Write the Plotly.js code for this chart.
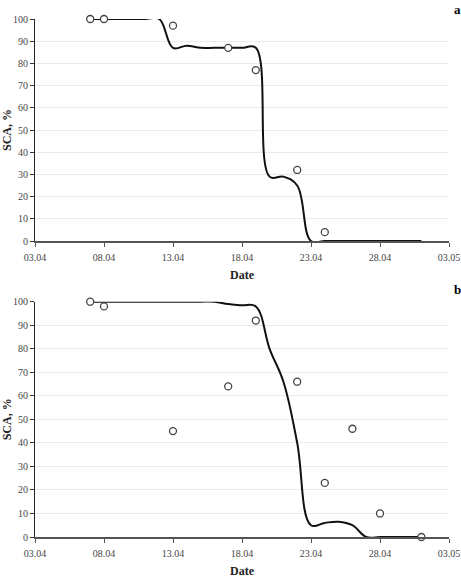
<!DOCTYPE html>
<html>
<head>
<meta charset="utf-8">
<script src="https://cdn.plot.ly/plotly-3.0.1.min.js"></script>
<style>
  html, body { margin: 0; padding: 0; background: #ffffff; }
  #chart { width: 461px; height: 579px; }
</style>
</head>
<body>
<div id="chart"></div>
<script>
// Snow-covered area (SCA, %) during spring melt: observations and smoothed model curve.

// Observation dates and values, panel a
const obsDatesA = ['2010-04-07', '2010-04-08', '2010-04-13', '2010-04-17', '2010-04-19', '2010-04-22', '2010-04-24'];
const obsValuesA = [100, 100, 97, 87, 77, 32, 4];

// Observation dates and values, panel b
const obsDatesB = ['2010-04-07', '2010-04-08', '2010-04-13', '2010-04-17', '2010-04-19', '2010-04-22', '2010-04-24', '2010-04-26', '2010-04-28', '2010-05-01'];
const obsValuesB = [100, 98, 45, 64, 92, 66, 23, 46, 10, 0];

// Daily model dates (07.04 – 01.05)
const modelDates = [
  '2010-04-07', '2010-04-08', '2010-04-09', '2010-04-10', '2010-04-11',
  '2010-04-12', '2010-04-13', '2010-04-14', '2010-04-15', '2010-04-16',
  '2010-04-17', '2010-04-18', '2010-04-19', '2010-04-20', '2010-04-21',
  '2010-04-22', '2010-04-23', '2010-04-24', '2010-04-25', '2010-04-26',
  '2010-04-27', '2010-04-28', '2010-04-29', '2010-04-30', '2010-05-01'
];
const modelValuesA = [100, 100, 100, 100, 100, 100, 87, 88, 87, 87, 87, 87, 87, 29, 29, 25, 0, 0, 0, 0, 0, 0, 0, 0, 0];
const modelValuesB = [100, 100, 100, 100, 100, 100, 100, 100, 100, 100, 99, 98.5, 98, 80, 66, 40, 5, 6, 6.5, 5, 0, 0, 0, 0, 0];

// Axis ticks
const xRange = ['2010-04-03', '2010-05-03'];
const yTickStep = 10;
const panelLabels = ['a', 'b'];

const serif = 'Liberation Serif, Times New Roman, serif';
const DAY = 86400000;

const lineStyle = { color: '#111111', width: 2, shape: 'spline', smoothing: 1.1 };
const markerStyle = { symbol: 'circle', size: 7, color: '#ffffff', line: { color: '#444444', width: 1.3 } };

const traces = [
  { x: modelDates, y: modelValuesA, xaxis: 'x2', yaxis: 'y2', mode: 'lines', line: lineStyle, hoverinfo: 'skip' },
  { x: obsDatesA, y: obsValuesA, xaxis: 'x2', yaxis: 'y2', mode: 'markers', marker: markerStyle, cliponaxis: false },
  { x: modelDates, y: modelValuesB, xaxis: 'x', yaxis: 'y', mode: 'lines', line: lineStyle, hoverinfo: 'skip' },
  { x: obsDatesB, y: obsValuesB, xaxis: 'x', yaxis: 'y', mode: 'markers', marker: markerStyle, cliponaxis: false }
];

function xAxis(anchor) {
  return {
    anchor: anchor,
    type: 'date',
    range: xRange,
    tick0: xRange[0],
    dtick: 5 * DAY,
    tickformat: '%d.%m',
    showgrid: false,
    zeroline: false,
    showline: true,
    linecolor: '#555555',
    linewidth: 2,
    ticks: 'outside',
    ticklen: 4,
    tickwidth: 1,
    tickcolor: '#555555',
    tickfont: { family: serif, size: 10, color: '#444444' },
    ticklabelstandoff: 2,
    title: { text: '<b>Date</b>', font: { family: serif, size: 12, color: '#222222' }, standoff: 9 },
    automargin: false,
    fixedrange: true
  };
}

function yAxis(anchor, domain) {
  return {
    anchor: anchor,
    domain: domain,
    range: [0, 100],
    dtick: yTickStep,
    showgrid: true,
    gridcolor: '#ebebeb',
    gridwidth: 1,
    zeroline: false,
    showline: true,
    linecolor: '#222222',
    linewidth: 1,
    ticks: 'outside',
    ticklen: 4,
    tickwidth: 1,
    tickcolor: '#333333',
    tickfont: { family: serif, size: 10, color: '#444444' },
    title: { text: '<b>SCA, %</b>', font: { family: serif, size: 12, color: '#222222' }, standoff: 3 },
    automargin: false,
    fixedrange: true
  };
}

const layout = {
  width: 461,
  height: 579,
  margin: { l: 35, r: 12, t: 19, b: 42 },
  paper_bgcolor: '#ffffff',
  plot_bgcolor: '#ffffff',
  showlegend: false,
  xaxis: xAxis('y'),
  yaxis: yAxis('x', [0, 0.4542]),
  xaxis2: xAxis('y2'),
  yaxis2: yAxis('x2', [0.5714, 1]),
  annotations: [
    { text: '<b>' + panelLabels[0] + '</b>', xref: 'paper', yref: 'paper', x: 1.008, y: 1.019,
      xanchor: 'left', yanchor: 'middle', showarrow: false, font: { family: serif, size: 13, color: '#000000' } },
    { text: '<b>' + panelLabels[1] + '</b>', xref: 'paper', yref: 'paper', x: 1.008, y: 0.477,
      xanchor: 'left', yanchor: 'middle', showarrow: false, font: { family: serif, size: 13, color: '#000000' } }
  ]
};

Plotly.newPlot('chart', traces, layout, { displayModeBar: false, staticPlot: true });
</script>
</body>
</html>
